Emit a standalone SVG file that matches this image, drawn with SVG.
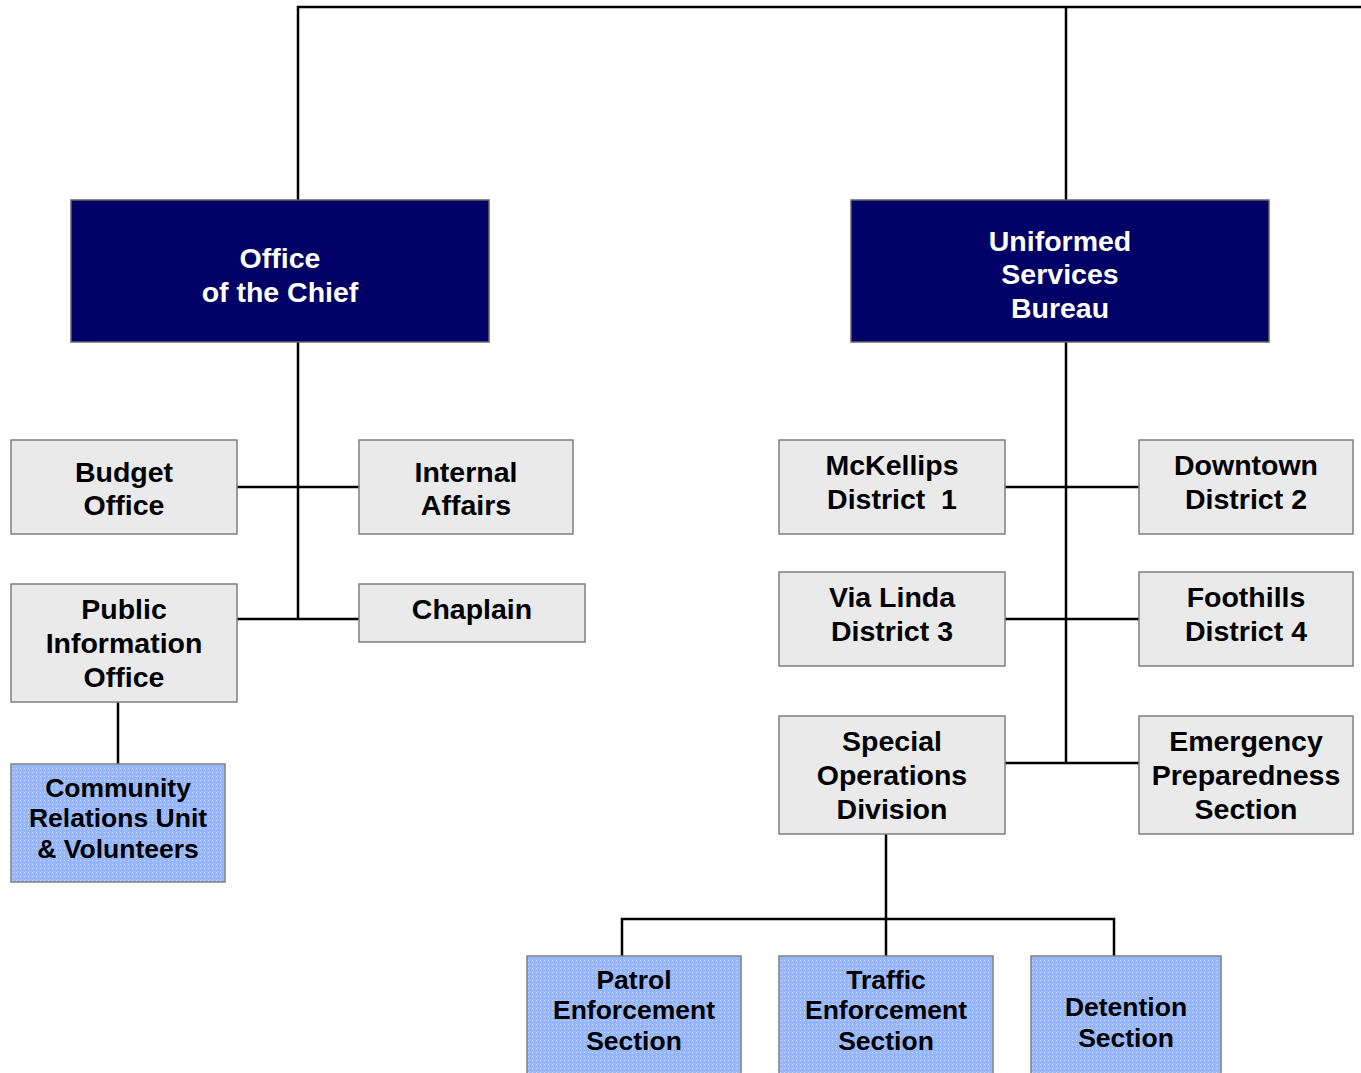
<svg xmlns="http://www.w3.org/2000/svg" width="1361" height="1073" viewBox="0 0 1361 1073">
<style>
.dark{fill:#000066;stroke:#666666;stroke-width:1.5}
.grey{fill:#eaeaea;stroke:#808080;stroke-width:1.5}
.blue{fill:url(#dots);stroke:#808080;stroke-width:1.5}
text{font-family:"Liberation Sans",Arial,sans-serif;font-weight:bold;text-anchor:middle}
.w{fill:#ffffff;font-size:28.5px}
.k{fill:#000000;font-size:28.5px}
.b{fill:#000000;font-size:26.5px}
.c{fill:none;stroke:#000000;stroke-width:2.5}
</style>
<defs>
<pattern id="dots" width="4" height="4" patternUnits="userSpaceOnUse">
<rect width="4" height="4" fill="#99b8fb"/>
<rect x="0" y="0" width="1" height="1" fill="#c8d8ff"/>
<rect x="2" y="2" width="1" height="1" fill="#88aaf0"/>
</pattern>
</defs>
<rect width="1361" height="1073" fill="#ffffff"/>
<g id="connectors">
<path class="c" d="M298,200 V7 H1361 M1066,7 V200"/>
<path class="c" d="M298,342 V619 M237,487 H359 M237,619 H359"/>
<path class="c" d="M118,702 V764"/>
<path class="c" d="M1066,342 V763 M1005,487 H1139 M1005,619 H1139 M1005,763 H1139"/>
<path class="c" d="M886,834 V956 M622,956 V919 H1114 V956"/>
</g>
<g id="office-chief"><rect class="dark" x="71" y="200" width="418" height="142"/><text class="w" x="280" y="268">Office</text><text class="w" x="280" y="302">of the Chief</text></g>
<g id="uniformed"><rect class="dark" x="851" y="200" width="418" height="142"/><text class="w" x="1060" y="251">Uniformed</text><text class="w" x="1060" y="284">Services</text><text class="w" x="1060" y="318">Bureau</text></g>
<g id="budget"><rect class="grey" x="11" y="440" width="226" height="94"/><text class="k" x="124" y="482">Budget</text><text class="k" x="124" y="515">Office</text></g>
<g id="internal"><rect class="grey" x="359" y="440" width="214" height="94"/><text class="k" x="466" y="482">Internal</text><text class="k" x="466" y="515">Affairs</text></g>
<g id="public-info"><rect class="grey" x="11" y="584" width="226" height="118"/><text class="k" x="124" y="619">Public</text><text class="k" x="124" y="653">Information</text><text class="k" x="124" y="687">Office</text></g>
<g id="chaplain"><rect class="grey" x="359" y="584" width="226" height="58"/><text class="k" x="472" y="619">Chaplain</text></g>
<g id="community"><rect class="blue" x="11" y="764" width="214" height="118"/><text class="b" x="118" y="797">Community</text><text class="b" x="118" y="827">Relations Unit</text><text class="b" x="118" y="858">&amp; Volunteers</text></g>
<g id="mckellips"><rect class="grey" x="779" y="440" width="226" height="94"/><text class="k" x="892" y="475">McKellips</text><text class="k" x="892" y="509" xml:space="preserve">District  1</text></g>
<g id="downtown"><rect class="grey" x="1139" y="440" width="214" height="94"/><text class="k" x="1246" y="475">Downtown</text><text class="k" x="1246" y="509">District 2</text></g>
<g id="vialinda"><rect class="grey" x="779" y="572" width="226" height="94"/><text class="k" x="892" y="607">Via Linda</text><text class="k" x="892" y="641">District 3</text></g>
<g id="foothills"><rect class="grey" x="1139" y="572" width="214" height="94"/><text class="k" x="1246" y="607">Foothills</text><text class="k" x="1246" y="641">District 4</text></g>
<g id="special-ops"><rect class="grey" x="779" y="716" width="226" height="118"/><text class="k" x="892" y="751">Special</text><text class="k" x="892" y="785">Operations</text><text class="k" x="892" y="819">Division</text></g>
<g id="emergency"><rect class="grey" x="1139" y="716" width="214" height="118"/><text class="k" x="1246" y="751">Emergency</text><text class="k" x="1246" y="785">Preparedness</text><text class="k" x="1246" y="819">Section</text></g>
<g id="patrol"><rect class="blue" x="527" y="956" width="214" height="130"/><text class="b" x="634" y="989">Patrol</text><text class="b" x="634" y="1019">Enforcement</text><text class="b" x="634" y="1050">Section</text></g>
<g id="traffic"><rect class="blue" x="779" y="956" width="214" height="130"/><text class="b" x="886" y="989">Traffic</text><text class="b" x="886" y="1019">Enforcement</text><text class="b" x="886" y="1050">Section</text></g>
<g id="detention"><rect class="blue" x="1031" y="956" width="190" height="130"/><text class="b" x="1126" y="1016">Detention</text><text class="b" x="1126" y="1047">Section</text></g>
</svg>
